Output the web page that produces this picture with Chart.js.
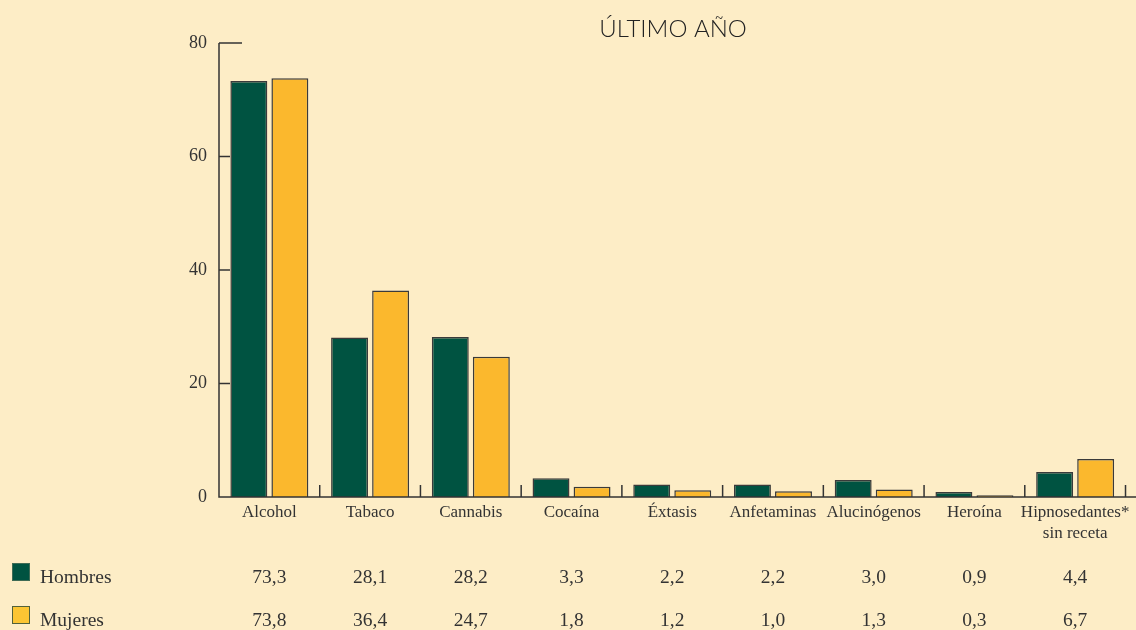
<!DOCTYPE html>
<html>
<head>
<meta charset="utf-8">
<script src="https://cdn.jsdelivr.net/npm/chart.js@4.4.1/dist/chart.umd.min.js"></script>
<style>
  html,body{margin:0;padding:0;background:#FDEDC6;}
  canvas{display:block;}
</style>
</head>
<body>
<canvas id="c" width="1136" height="630"></canvas>
<script>
const title = 'ÚLTIMO AÑO';
const categories = ['Alcohol','Tabaco','Cannabis','Cocaína','Éxtasis','Anfetaminas','Alucinógenos','Heroína',['Hipnosedantes*','sin receta']];
const seriesNames = ['Hombres','Mujeres'];
const hombres = [73.3,28.1,28.2,3.3,2.2,2.2,3.0,0.9,4.4];
const mujeres = [73.8,36.4,24.7,1.8,1.2,1.0,1.3,0.3,6.7];
const yTicks = [0,20,40,60,80];

const BG = '#FDEDC6';
const GREEN = '#005341';
const YELLOW = '#FBB82D';
const INK = '#333333';
const SERIF = '"Liberation Serif", "DejaVu Serif", serif';

const fmt = v => v.toFixed(1).replace('.', ',');

const decor = {
  id: 'decor',
  beforeDraw(chart) {
    const ctx = chart.ctx;
    ctx.save();
    ctx.fillStyle = BG;
    ctx.fillRect(0, 0, chart.width, chart.height);
    ctx.restore();
  },
  afterDraw(chart) {
    const ctx = chart.ctx;
    const x = chart.scales.x, y = chart.scales.y;
    const left = chart.chartArea.left, right = chart.chartArea.right;
    const y0 = y.getPixelForValue(0);
    ctx.save();
    ctx.strokeStyle = INK;
    ctx.lineWidth = 1.5;
    // axes
    ctx.beginPath();
    ctx.moveTo(left, y.getPixelForValue(80));
    ctx.lineTo(left, y0);
    ctx.lineTo(chart.width, y0);
    ctx.stroke();
    // y ticks
    yTicks.forEach(t => {
      if (t === 0) return;
      const py = y.getPixelForValue(t);
      ctx.beginPath();
      ctx.moveTo(left, py);
      ctx.lineTo(left + (t === 80 ? 23 : 11), py);
      ctx.stroke();
    });
    // x category boundary ticks
    const n = categories.length;
    const w = (right - left) / n;
    for (let i = 1; i <= n; i++) {
      const px = x.getPixelForValue(i - 1) + w / 2;
      ctx.beginPath();
      ctx.moveTo(px, y0);
      ctx.lineTo(px, y0 - 12);
      ctx.stroke();
    }
    // title
    ctx.fillStyle = '#222';
    ctx.font = '300 24px Lato, "Open Sans", sans-serif';
    ctx.textAlign = 'center';
    ctx.textBaseline = 'middle';
    ctx.fillText(title, 673, 29);
    // legend + table
    const rows = [[hombres, GREEN, '#3f6b55', 576], [mujeres, '#FBC533', '#51613a', 619]];
    rows.forEach((r, ri) => {
      const [vals, fill, stroke, ry] = r;
      ctx.fillStyle = fill;
      ctx.fillRect(12, ry - 13, 18, 18);
      ctx.strokeStyle = stroke;
      ctx.lineWidth = 1;
      ctx.strokeRect(12.5, ry - 12.5, 17, 17);
      ctx.fillStyle = INK;
      ctx.font = '19.5px ' + SERIF;
      ctx.textAlign = 'left';
      ctx.textBaseline = 'middle';
      ctx.fillText(seriesNames[ri], 40, ry + 2);
      ctx.textAlign = 'center';
      vals.forEach((v, i) => {
        ctx.fillText(fmt(v), x.getPixelForValue(i), ry + 2);
      });
    });
    ctx.restore();
  }
};

new Chart(document.getElementById('c'), {
  type: 'bar',
  data: {
    labels: categories,
    datasets: [
      { label: seriesNames[0], data: hombres, backgroundColor: GREEN, borderColor: '#3a3a3a', borderWidth: 1.5 },
      { label: seriesNames[1], data: mujeres, backgroundColor: YELLOW, borderColor: '#3a3a3a', borderWidth: 1.5 }
    ]
  },
  options: {
    responsive: false,
    animation: false,
    devicePixelRatio: 1,
    layout: { padding: { top: 43, right: 10, left: 0, bottom: 0 } },
    plugins: { legend: { display: false }, tooltip: { enabled: false }, title: { display: false } },
    datasets: { bar: { categoryPercentage: 0.815, barPercentage: 0.9 } },
    scales: {
      x: {
        grid: { display: false, drawTicks: false },
        border: { display: false },
        ticks: { color: INK, font: { family: SERIF, size: 17, lineHeight: 1.18 }, padding: 6, maxRotation: 0, autoSkip: false },
        afterFit(s) { s.height = 133; }
      },
      y: {
        min: 0, max: 80,
        grid: { display: false, drawTicks: false },
        border: { display: false },
        afterBuildTicks(s) { s.ticks = yTicks.map(v => ({ value: v })); },
        ticks: { color: INK, font: { family: SERIF, size: 18 }, padding: 12 },
        afterFit(s) { s.width = 219; }
      }
    }
  },
  plugins: [decor]
});
</script>
</body>
</html>
